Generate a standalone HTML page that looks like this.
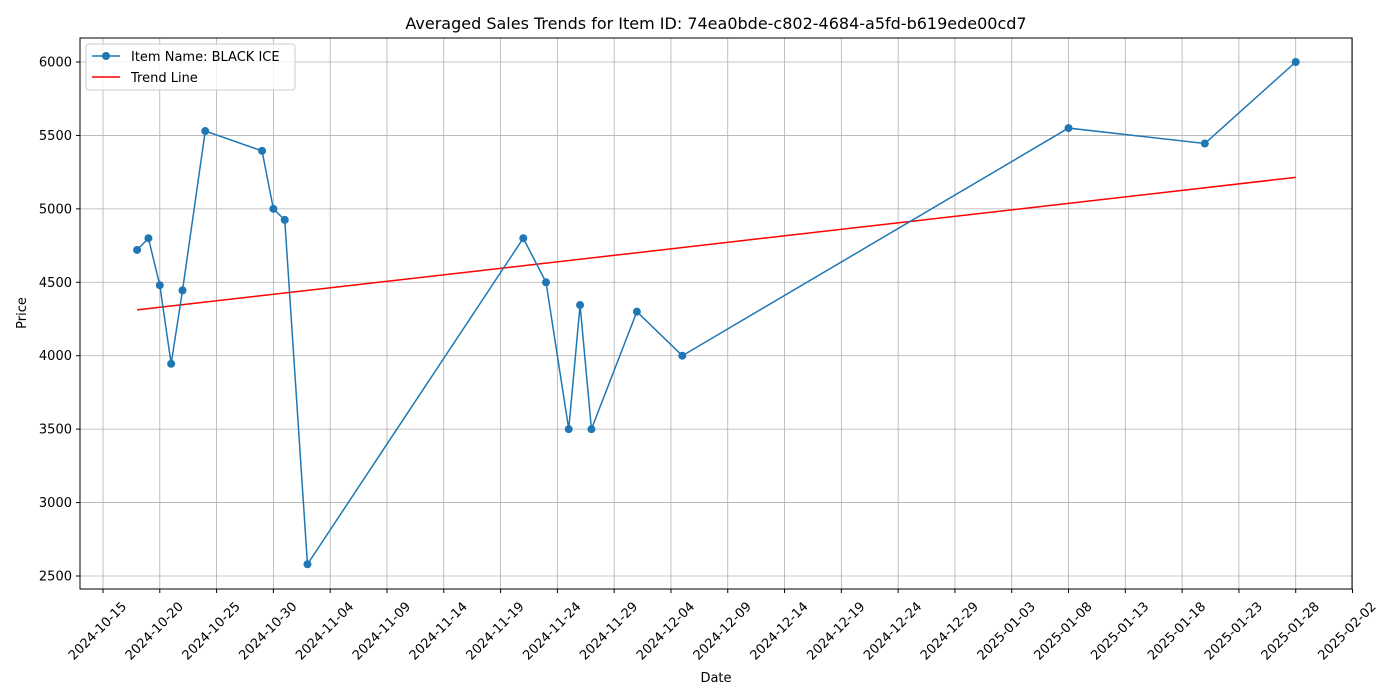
<!DOCTYPE html>
<html><head><meta charset="utf-8">
<style>
html,body{margin:0;padding:0;background:#fff;}
svg{display:block;font-family:"DejaVu Sans","Liberation Sans",sans-serif;}
</style></head>
<body>
<svg id="chart" width="1400" height="700"></svg>
<script>
const dates = ["2024-10-18","2024-10-19","2024-10-20","2024-10-21","2024-10-22","2024-10-24","2024-10-29","2024-10-30","2024-10-31","2024-11-02","2024-11-21","2024-11-23","2024-11-25","2024-11-26","2024-11-27","2024-12-01","2024-12-05","2025-01-08","2025-01-20","2025-01-28"];
const prices = [4720,4800,4480,3945,4445,5530,5395,5000,4925,2580,4800,4500,3500,4345,3500,4300,4000,5550,5445,6000];
const xTickLabels = ["2024-10-15","2024-10-20","2024-10-25","2024-10-30","2024-11-04","2024-11-09","2024-11-14","2024-11-19","2024-11-24","2024-11-29","2024-12-04","2024-12-09","2024-12-14","2024-12-19","2024-12-24","2024-12-29","2025-01-03","2025-01-08","2025-01-13","2025-01-18","2025-01-23","2025-01-28","2025-02-02"];
const yTicks = [2500,3000,3500,4000,4500,5000,5500,6000];

const NS="http://www.w3.org/2000/svg";
const svg=document.getElementById('chart');
const L=80,R=1352,T=38,B=589;
const day=s=>Date.parse(s+"T00:00:00Z")/86400000;
const d0=day("2024-10-15"), pxPerDay=(1352.5-103)/110;
const x=s=>103+(day(s)-d0)*pxPerDay;
const xd=d=>103+(d-d0)*pxPerDay;
const y=v=>576-(v-2500)*(514/3500);
function el(tag,attrs,parent){const e=document.createElementNS(NS,tag);for(const k in attrs)e.setAttribute(k,attrs[k]);(parent||svg).appendChild(e);return e;}
function txt(s,attrs,parent){const e=el('text',attrs,parent);e.textContent=s;return e;}

const grid=el('g',{});


xTickLabels.forEach(s=>{const X=x(s);el('line',{x1:X,x2:X,y1:T,y2:B,stroke:'#b0b0b0','stroke-width':0.8},grid);});
yTicks.forEach(v=>{const Y=y(v);el('line',{x1:L,x2:R,y1:Y,y2:Y,stroke:'#b0b0b0','stroke-width':0.8},grid);});

const xs=dates.map(day), n=xs.length;
const mx=xs.reduce((a,b)=>a+b)/n, my=prices.reduce((a,b)=>a+b)/n;
let sxy=0,sxx=0;xs.forEach((d,i)=>{sxy+=(d-mx)*(prices[i]-my);sxx+=(d-mx)*(d-mx);});
const slope=sxy/sxx, icpt=my-slope*mx;
const trend=el('line',{x1:xd(xs[0]),y1:y(icpt+slope*xs[0]),x2:xd(xs[n-1]),y2:y(icpt+slope*xs[n-1]),stroke:'#ff0000','stroke-width':1.5});



const path=el('polyline',{points:dates.map((s,i)=>x(s)+","+y(prices[i])).join(" "),fill:'none',stroke:'#1f77b4','stroke-width':1.5});


dates.forEach((s,i)=>{const c=el('circle',{cx:x(s),cy:y(prices[i]),r:4,fill:'#1f77b4'});

});

const frame=el('rect',{x:L,y:T,width:R-L,height:B-T,fill:'none',stroke:'#000','stroke-width':1});



xTickLabels.forEach(s=>{const X=x(s);el('line',{x1:X,x2:X,y1:B,y2:B+4,stroke:'#000'});
const ax=X+18, ay=B+12;
const t=txt(s,{x:ax,y:ay,'font-size':13,'text-anchor':'end',transform:`rotate(-45 ${ax} ${ay})`,'dominant-baseline':'hanging'});

});
yTicks.forEach(v=>{const Y=y(v);el('line',{x1:L-4,x2:L,y1:Y,y2:Y,stroke:'#000'});
const t=txt(String(v),{x:L-8,y:Y+4.5,'font-size':13,'text-anchor':'end'});

});

const title=txt("Averaged Sales Trends for Item ID: 74ea0bde-c802-4684-a5fd-b619ede00cd7",{x:716,y:29,'font-size':16,'text-anchor':'middle'});


const xt=txt("Date",{x:716,y:682,'font-size':13,'text-anchor':'middle'});


const yt=txt("Price",{x:26,y:313,'font-size':13,'text-anchor':'middle',transform:'rotate(-90 26 313)'});



const lg=el('g',{});


el('rect',{x:86,y:44,width:209,height:46,rx:3,fill:'#fff','fill-opacity':0.8,stroke:'#ccc'},lg);
el('line',{x1:92,x2:120,y1:56,y2:56,stroke:'#1f77b4','stroke-width':1.5},lg);
el('circle',{cx:106,cy:56,r:4,fill:'#1f77b4'},lg);
const l1=txt("Item Name: BLACK ICE",{x:131,y:61,'font-size':13},lg);


el('line',{x1:92,x2:120,y1:77,y2:77,stroke:'#ff0000','stroke-width':1.5},lg);
const l2=txt("Trend Line",{x:131,y:82,'font-size':13},lg);


</script>
</body></html>
